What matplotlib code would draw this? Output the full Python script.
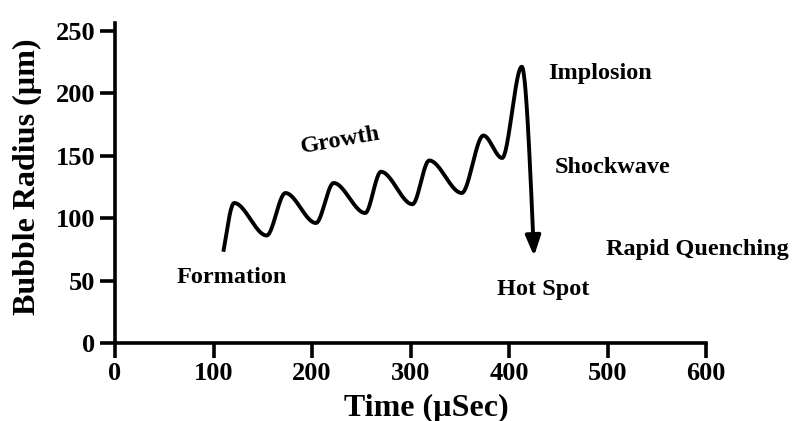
import numpy as np
import matplotlib
matplotlib.use("Agg")
import matplotlib.pyplot as plt
from matplotlib.patches import FancyArrowPatch

# ---- data ----
time_pts = [110, 121, 154, 173, 204, 222, 254, 270, 302, 319, 352, 374, 393, 413, 425.4]
radius_pts = [73, 112, 86, 120, 96, 128, 104, 137, 111, 146, 120, 166, 148, 221, 69.5]

x_ticks = [0, 100, 200, 300, 400, 500, 600]
y_ticks = [0, 50, 100, 150, 200, 250]

labels = ["Formation", "Growth", "Implosion", "Shockwave", "Rapid Quenching", "Hot Spot"]
label_x = [62, 229, 440, 446, 498, 387.5]
label_y = [52.3, 162, 216, 140.8, 74.5, 43.1]
label_rot = [0, 10, 0, 0, 0, 0]
label_ha = ["left", "center", "left", "left", "left", "left"]


def pchip(x, y, xs):
    x = np.asarray(x, float)
    y = np.asarray(y, float)
    h = np.diff(x)
    delta = np.diff(y) / h
    n = len(x)
    d = np.zeros(n)
    for k in range(1, n - 1):
        if delta[k - 1] * delta[k] > 0:
            w1 = 2 * h[k] + h[k - 1]
            w2 = h[k] + 2 * h[k - 1]
            d[k] = (w1 + w2) / (w1 / delta[k - 1] + w2 / delta[k])

    def endslope(h0, h1, d0, d1):
        s = ((2 * h0 + h1) * d0 - h0 * d1) / (h0 + h1)
        if np.sign(s) != np.sign(d0):
            s = 0.0
        elif np.sign(d0) != np.sign(d1) and abs(s) > abs(3 * d0):
            s = 3 * d0
        return s

    d[0] = endslope(h[0], h[1], delta[0], delta[1])
    d[-1] = endslope(h[-1], h[-2], delta[-1], delta[-2])
    out = np.empty_like(xs)
    idx = np.clip(np.searchsorted(x, xs) - 1, 0, n - 2)
    for i, xv in enumerate(xs):
        k = idx[i]
        t = (xv - x[k]) / h[k]
        h00 = 2 * t**3 - 3 * t**2 + 1
        h10 = t**3 - 2 * t**2 + t
        h01 = -2 * t**3 + 3 * t**2
        h11 = t**3 - t**2
        out[i] = h00 * y[k] + h10 * h[k] * d[k] + h01 * y[k + 1] + h11 * h[k] * d[k + 1]
    return out


plt.rcParams["font.family"] = ["Liberation Serif", "DejaVu Serif"]
plt.rcParams["font.weight"] = "bold"

fig = plt.figure(figsize=(7.93, 4.21), dpi=100)
ax_top_px = 23
ax = fig.add_axes([115 / 793, 1 - 343 / 421, (706 - 115) / 793, (343 - ax_top_px) / 421])

xs = np.linspace(time_pts[0], time_pts[-1], 800)
ys = pchip(time_pts, radius_pts, xs)
# stop line slightly before the tip and draw an arrow head
mask = ys > radius_pts[-1] + 10
cut = np.where(~mask & (xs > time_pts[-2]))[0]
end = cut[0] if len(cut) else len(xs)
ax.plot(xs[:end], ys[:end], color="black", lw=2.8, solid_capstyle="butt", clip_on=False)
arr = FancyArrowPatch((xs[end - 1], ys[end - 1]), (time_pts[-1], radius_pts[-1]),
                      arrowstyle="-|>,head_length=1.0,head_width=0.38",
                      mutation_scale=12, color="black", lw=2.8, shrinkA=0, shrinkB=0)
ax.add_patch(arr)

for txt, lx, ly, rot, ha in zip(labels, label_x, label_y, label_rot, label_ha):
    ax.text(lx, ly, txt, ha=ha, va="center", rotation=rot, fontsize=17.5,
            fontweight="bold", clip_on=False, rotation_mode="anchor")

ax.set_xlim(0, 600)
ax.set_ylim(0, 250 * (343 - ax_top_px) / (343 - 30.5))
ax.set_xticks(x_ticks)
ax.set_yticks(y_ticks)
ax.tick_params(axis="both", direction="out", length=11, width=2.6, labelsize=19, pad=3)
for lab in ax.get_xticklabels() + ax.get_yticklabels():
    lab.set_fontweight("bold")
for s in ["top", "right"]:
    ax.spines[s].set_visible(False)
for s in ["left", "bottom"]:
    ax.spines[s].set_linewidth(2.6)

ax.set_xlabel("Time (µSec)", fontsize=23, fontweight="bold")
ax.xaxis.set_label_coords((426.5 - 115) / (706 - 115), -(408 - 343) / (343 - ax_top_px))
ax.xaxis.label.set_va("center")
ax.set_ylabel("Bubble Radius (µm)", fontsize=23, fontweight="bold")
ax.yaxis.set_label_coords(-(115 - 27) / (706 - 115), (343 - 176.5) / (343 - ax_top_px))
ax.yaxis.label.set_va("center")

fig.savefig("out.png", dpi=100, facecolor="white")
